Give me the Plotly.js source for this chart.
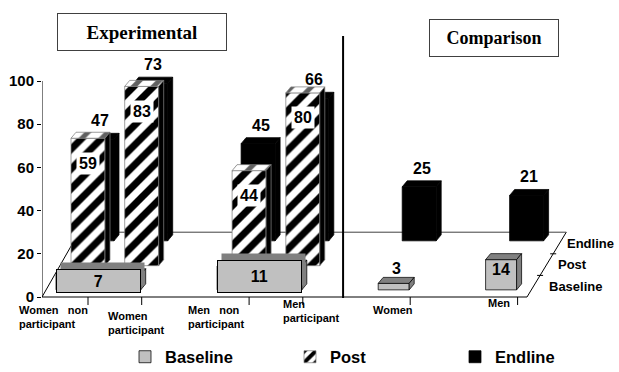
<!DOCTYPE html>
<html>
<head>
<meta charset="utf-8">
<script src="https://cdn.plot.ly/plotly-3.0.1.min.js"></script>
<style>
  html, body { margin: 0; padding: 0; background: #ffffff; }
  #chart { width: 619px; height: 372px; }
</style>
</head>
<body>
<div id="chart"></div>
<script>
// ---- Data: share (%) by survey round ----
const categories = ['Women non participant', 'Women participant', 'Men non participant', 'Men participant', 'Women', 'Men'];
const panelTitles = ['Experimental', 'Comparison'];
const seriesNames = ['Baseline', 'Post', 'Endline'];
const postValues = [59, 83, 44, 80, null, null];
const endlineValues = [47, 73, 45, 66, 25, 21];
// baseline was measured per sex, before participation was known
const baselineValues = [7, 11, 3, 14];
const baselineCategories = [[0, 1], [2, 3], [4], [5]];
const yTickValues = [0, 20, 40, 60, 80, 100];

// ---- Geometry of the pseudo-3D layout (pixels -> axis units) ----
const W = 619, H = 372, MARGIN_L = 42;
const ZERO_PX = 297;        // pixel row of value 0 on the front floor edge
const PX_PER_UNIT = 2.16;   // vertical pixels per percentage point
const SLOT0_PX = 88;        // centre of first slot on the Post row
const PX_PER_SLOT = 53.7;
const categorySlot = [0, 1, 3, 4, 6, 8];
const rowShiftPx = { Baseline: -16.5, Post: 0, Endline: 9 };
const rowBase = { Baseline: 3.3, Post: 14.5, Endline: 26 };
const rowZ = { Endline: 0, Post: 1, Baseline: 2 };
const BAR_PX = 34, BASE_BAR_PX = 31, DEPTH_X_PX = 5, DEPTH_Y_PX = 6;
const FLOOR_DEPTH = 30;     // value height of the back floor edge
const FLOOR_RIGHT_PX = 527, FLOOR_BACK_LEFT_PX = 79, FLOOR_SLOPE = 0.606;
const SEPARATOR_SLOT = 4.75;
const baselineLabelStyle = ['boxed', 'boxed', 'above', 'inside'];
const catLabelDx = [-70, -35, -62, -21, -38, -31];
const catLabelY = [310, 316, 310, 304, 310, 303];

const sx = px => px / PX_PER_SLOT;
const sy = px => px / PX_PER_UNIT;
const xOfPx = px => (px - SLOT0_PX) / PX_PER_SLOT;
const yOfPx = py => (ZERO_PX - py) / PX_PER_UNIT;
// paper fractions, for texts that may sit outside the plotting area
const pxX = px => (px - MARGIN_L) / (W - MARGIN_L);
const pxY = py => (H - py) / H;

const FONT = 'Liberation Sans, Arial, sans-serif';
const SERIF = 'Liberation Serif, Times New Roman, serif';

const styles = {
  Baseline: { front: '#c0c0c0', frontLine: '#000000', top: '#808080', side: '#808080', edge: '#000000' },
  Post: { front: '#000000', frontLine: '#808080', top: '#ffffff', side: '#000000', edge: '#808080' },
  Endline: { front: '#000000', frontLine: '#000000', top: '#000000', side: '#000000', edge: '#000000' }
};
const stripe = { shape: '/', fgcolor: '#000000', bgcolor: '#ffffff', size: 14, solidity: 0.5 };

// build bar fronts plus top / side faces for one series
function series(name, centers, widths, values, rank) {
  const st = styles[name], base = rowBase[name];
  const dx = sx(DEPTH_X_PX), dy = sy(DEPTH_Y_PX);
  const top = { x: [], y: [] }, side = { x: [], y: [] };
  centers.forEach((c, i) => {
    const l = c - widths[i] / 2, r = c + widths[i] / 2, t = base + values[i];
    top.x.push(l, r, r + dx, l + dx, l, null);
    top.y.push(t, t, t + dy, t + dy, t, null);
    side.x.push(r, r + dx, r + dx, r, r, null);
    side.y.push(base, base + dy, t + dy, t, base, null);
  });
  const bar = {
    type: 'bar', name: name, x: centers, y: values, base: base, width: widths,
    marker: { color: st.front, line: { color: st.frontLine, width: 0.75 } },
    hoverinfo: 'skip', legendrank: rank, zorder: rowZ[name]
  };
  if (name === 'Post') bar.marker.pattern = stripe;
  const face = (pts, fill, pattern) => {
    const tr = {
      type: 'scatter', mode: 'lines', x: pts.x, y: pts.y, fill: 'toself', fillcolor: fill,
      line: { color: st.edge, width: 0.75 }, hoverinfo: 'skip', showlegend: false, zorder: rowZ[name]
    };
    if (pattern) tr.fillpattern = pattern;
    return tr;
  };
  const topPattern = name === 'Post' ? { shape: '/', fgcolor: '#606060', bgcolor: '#ffffff', size: 14, solidity: 0.35 } : null;
  return [bar, face(top, st.top, topPattern), face(side, st.side, null)];
}

// Endline (back row)
const endC = categorySlot.map(s => s + sx(rowShiftPx.Endline));
const endW = categorySlot.map(() => sx(BAR_PX));
// Post (middle row)
const postIdx = postValues.map((v, i) => v === null ? -1 : i).filter(i => i >= 0);
const postC = postIdx.map(i => categorySlot[i] + sx(rowShiftPx.Post));
const postW = postIdx.map(() => sx(BAR_PX));
const postV = postIdx.map(i => postValues[i]);
// Baseline (front row)
const baseC = baselineCategories.map(g => {
  const s = g.map(i => categorySlot[i]);
  return (Math.min(...s) + Math.max(...s)) / 2 + sx(rowShiftPx.Baseline);
});
const baseW = baselineCategories.map(g => {
  const s = g.map(i => categorySlot[i]);
  return sx((Math.max(...s) - Math.min(...s)) * PX_PER_SLOT + BASE_BAR_PX);
});

const traces = [
  ...series('Endline', endC, endW, endlineValues, 3),
  ...series('Post', postC, postW, postV, 2),
  ...series('Baseline', baseC, baseW, baselineValues, 1)
];

// ---- Annotations ----
const ann = [];
const valFont = { family: FONT, size: 16, color: '#000000', weight: 'bold' };

endlineValues.forEach((v, i) => {
  ann.push({
    x: endC[i] + sx(DEPTH_X_PX) / 2, y: rowBase.Endline + v + sy(DEPTH_Y_PX),
    xref: 'x', yref: 'y', text: String(v), showarrow: false,
    xanchor: 'center', yanchor: 'bottom', yshift: 2, font: valFont
  });
});
postV.forEach((v, i) => {
  ann.push({
    x: postC[i], y: rowBase.Post + v - sy(25), xref: 'x', yref: 'y', text: String(v),
    showarrow: false, xanchor: 'center', yanchor: 'middle', bgcolor: '#ffffff', borderpad: 2, font: valFont
  });
});
baselineValues.forEach((v, i) => {
  const style = baselineLabelStyle[i];
  const top = rowBase.Baseline + v;
  if (style === 'boxed') {
    const w = baseW[i] * PX_PER_SLOT - 2, h = v * PX_PER_UNIT + 7;
    const common = {
      x: baseC[i], y: rowBase.Baseline, xref: 'x', yref: 'y', showarrow: false,
      xanchor: 'center', yanchor: 'bottom', width: w, height: h, borderpad: 0, valign: 'middle'
    };
    ann.push(Object.assign({}, common, { text: '', bgcolor: '#808080', xshift: 4, yshift: 4 }));
    ann.push(Object.assign({}, common, {
      text: String(v), bgcolor: '#c0c0c0', bordercolor: '#000000', borderwidth: 1, yshift: -3, font: valFont
    }));
  } else if (style === 'above') {
    ann.push({
      x: baseC[i] + sx(DEPTH_X_PX) / 2, y: top + sy(DEPTH_Y_PX), xref: 'x', yref: 'y', text: String(v),
      showarrow: false, xanchor: 'center', yanchor: 'bottom', yshift: -2, font: valFont
    });
  } else {
    ann.push({
      x: baseC[i], y: top - sy(10), xref: 'x', yref: 'y', text: String(v),
      showarrow: false, xanchor: 'center', yanchor: 'middle', font: valFont
    });
  }
});

// category labels below the front floor edge
const NBSP = '\u00a0\u00a0\u00a0';
categories.forEach((c, i) => {
  const words = c.split(' ');
  const text = words.length > 1 ? words.slice(0, -1).join(NBSP) + '<br>' + words[words.length - 1] : c;
  ann.push({
    x: pxX(SLOT0_PX + categorySlot[i] * PX_PER_SLOT + catLabelDx[i]), y: pxY(catLabelY[i] - 7),
    xref: 'paper', yref: 'paper', text: text, showarrow: false, xanchor: 'left', yanchor: 'top', align: 'left',
    borderpad: 0, font: { family: FONT, size: 11, color: '#000000', weight: 'bold' }
  });
});

// depth-axis row names along the right floor edge
const diagPx = py => FLOOR_RIGHT_PX + (ZERO_PX - py) * FLOOR_SLOPE;
const floorBackPy = ZERO_PX - FLOOR_DEPTH * PX_PER_UNIT;
const rowDepthPx = (ZERO_PX - floorBackPy) / 3;
seriesNames.forEach((n, r) => {
  const py = ZERO_PX - rowDepthPx * (r + 0.5);
  ann.push({
    x: pxX(diagPx(py) + 14 - 4 * r), y: pxY(py), xref: 'paper', yref: 'paper', text: n, showarrow: false,
    xanchor: 'left', yanchor: 'middle', borderpad: 0,
    font: { family: FONT, size: 13, color: '#000000', weight: 'bold' }
  });
});

// panel titles
[[142, 32, 166, 19], [494, 38, 126, 18]].forEach((b, k) => {
  ann.push({
    x: pxX(b[0]), y: pxY(b[1]), xref: 'paper', yref: 'paper', text: panelTitles[k], showarrow: false,
    xanchor: 'center', yanchor: 'middle', width: b[2], height: 34, borderpad: 1,
    bordercolor: '#404040', borderwidth: 1, bgcolor: '#ffffff',
    font: { family: SERIF, size: b[3], color: '#000000', weight: 'bold' }
  });
});

// ---- Floor, walls and axis lines ----
const line = (x0, y0, x1, y1, color, width) => ({
  type: 'line', xref: 'x', yref: 'y', x0: x0, y0: y0, x1: x1, y1: y1,
  line: { color: color, width: width }, layer: 'below'
});
const shapes = [
  line(xOfPx(MARGIN_L), 0, xOfPx(MARGIN_L), yTickValues[yTickValues.length - 1], '#000000', 1),
  line(xOfPx(MARGIN_L), 0, xOfPx(FLOOR_RIGHT_PX), 0, '#000000', 1),
  line(xOfPx(MARGIN_L), 0, xOfPx(FLOOR_BACK_LEFT_PX), FLOOR_DEPTH, '#000000', 1),
  line(xOfPx(FLOOR_RIGHT_PX), 0, xOfPx(diagPx(floorBackPy)), FLOOR_DEPTH, '#000000', 1),
  line(xOfPx(FLOOR_BACK_LEFT_PX), FLOOR_DEPTH, xOfPx(diagPx(floorBackPy)), FLOOR_DEPTH, '#404040', 1),
  line(SEPARATOR_SLOT, yOfPx(298), SEPARATOR_SLOT, yOfPx(36), '#000000', 2)
];
[1, 2].forEach(k => {
  const py = ZERO_PX - rowDepthPx * k;
  shapes.push(line(xOfPx(diagPx(py) - 3), yOfPx(py), xOfPx(diagPx(py) + 3), yOfPx(py), '#000000', 1));
});
categorySlot.forEach(s => {
  shapes.push(line(s, 0, s, -sy(8), '#000000', 1));
});

const layout = {
  width: W, height: H,
  margin: { l: MARGIN_L, r: 0, t: 0, b: 0, autoexpand: false },
  paper_bgcolor: '#ffffff', plot_bgcolor: 'rgba(0,0,0,0)',
  barmode: 'overlay',
  showlegend: true,
  legend: {
    orientation: 'h', x: pxX(125), y: pxY(357),
    xanchor: 'left', yanchor: 'middle', entrywidth: 120, entrywidthmode: 'pixels',
    font: { family: FONT, size: 16.5, color: '#000000', weight: 'bold' },
    bgcolor: 'rgba(0,0,0,0)', tracegroupgap: 0
  },
  xaxis: { range: [xOfPx(MARGIN_L), xOfPx(W)], visible: false, fixedrange: true },
  yaxis: {
    range: [yOfPx(H), yOfPx(0)], tickmode: 'array', tickvals: yTickValues,
    ticktext: yTickValues.map(String), ticks: 'outside', ticklen: 4, tickwidth: 1, tickcolor: '#000000',
    showline: false, showgrid: false, zeroline: false, fixedrange: true,
    tickfont: { family: FONT, size: 15, color: '#000000', weight: 'bold' }
  },
  shapes: shapes,
  annotations: ann
};

Plotly.newPlot('chart', traces, layout, { staticPlot: true, displayModeBar: false });
</script>
</body>
</html>
